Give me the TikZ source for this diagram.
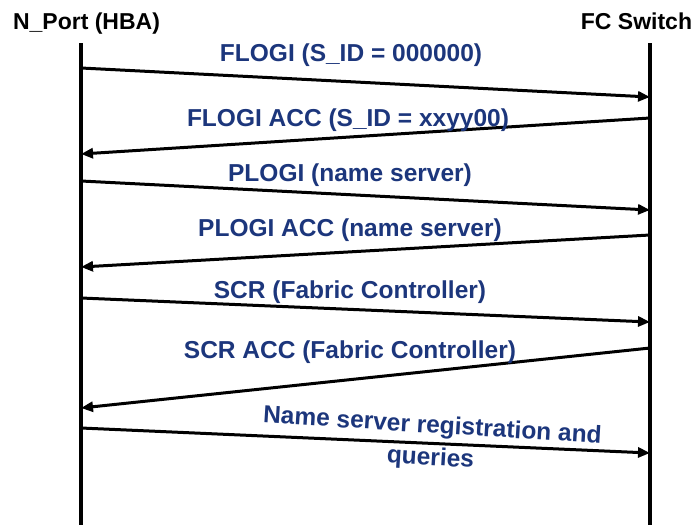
\documentclass[tikz,border=0pt]{standalone}
\usepackage{fontspec}
\setmainfont{Liberation Sans}
\usetikzlibrary{arrows.meta}
\definecolor{msgblue}{RGB}{28,54,124}
\tikzset{
  lifeline/.style={line width=3.2pt, black},
  msg/.style={line width=3pt, black, -{Triangle[length=12pt,width=10pt]}},
  hdr/.style={anchor=base, inner sep=0pt, font=\fontsize{23}{26}\selectfont\bfseries, text=black},
  lbl/.style={anchor=base, inner sep=0pt, font=\fontsize{24.5}{28}\selectfont\bfseries, text=msgblue}
}
\begin{document}
\begin{tikzpicture}[x=1pt,y=-1pt]
\useasboundingbox (0,0) rectangle (698,525);
\fill[white] (0,0) rectangle (698,525);
% headers
\node[hdr] (hba) at (86.5,29) {N\_Port (HBA)};
\node[hdr] (sw) at (636.5,29) {FC Switch};
% lifelines
\coordinate (Ltop) at (81,43);
\coordinate (Lbot) at (81,525);
\coordinate (Rtop) at (650,43);
\coordinate (Rbot) at (650,525);
\draw[lifeline] (Ltop) -- (Lbot);
\draw[lifeline] (Rtop) -- (Rbot);
% message endpoints
\coordinate (m1a) at (81,68);   \coordinate (m1b) at (650,97);
\coordinate (m2a) at (650,118); \coordinate (m2b) at (81,154);
\coordinate (m3a) at (81,181);  \coordinate (m3b) at (650,210);
\coordinate (m4a) at (650,235); \coordinate (m4b) at (81,267);
\coordinate (m5a) at (81,298);  \coordinate (m5b) at (650,322);
\coordinate (m6a) at (650,348); \coordinate (m6b) at (81,408);
\coordinate (m7a) at (81,428);  \coordinate (m7b) at (650,453);
\draw[msg] (m1a) -- (m1b);
\draw[msg] (m2a) -- (m2b);
\draw[msg] (m3a) -- (m3b);
\draw[msg] (m4a) -- (m4b);
\draw[msg] (m5a) -- (m5b);
\draw[msg] (m6a) -- (m6b);
\draw[msg] (m7a) -- (m7b);
% labels
\node[lbl] (l1) at (351,61) {FLOGI (S\_ID = 000000)};
\node[lbl] (l2) at (348,126) {FLOGI ACC (S\_ID = xxyy00)};
\node[lbl] (l3) at (350,181) {PLOGI (name server)};
\node[lbl] (l4) at (350,236) {PLOGI ACC (name server)};
\node[lbl] (l5) at (350,298) {SCR (Fabric Controller)};
\node[lbl] (l6) at (350,358) {SCR ACC (Fabric Controller)};
\node[lbl, rotate=-3.5] (l7) at (432,433) {Name server registration and};
\node[lbl, rotate=-3.5] (l8) at (430,465) {queries};
\end{tikzpicture}
\end{document}
